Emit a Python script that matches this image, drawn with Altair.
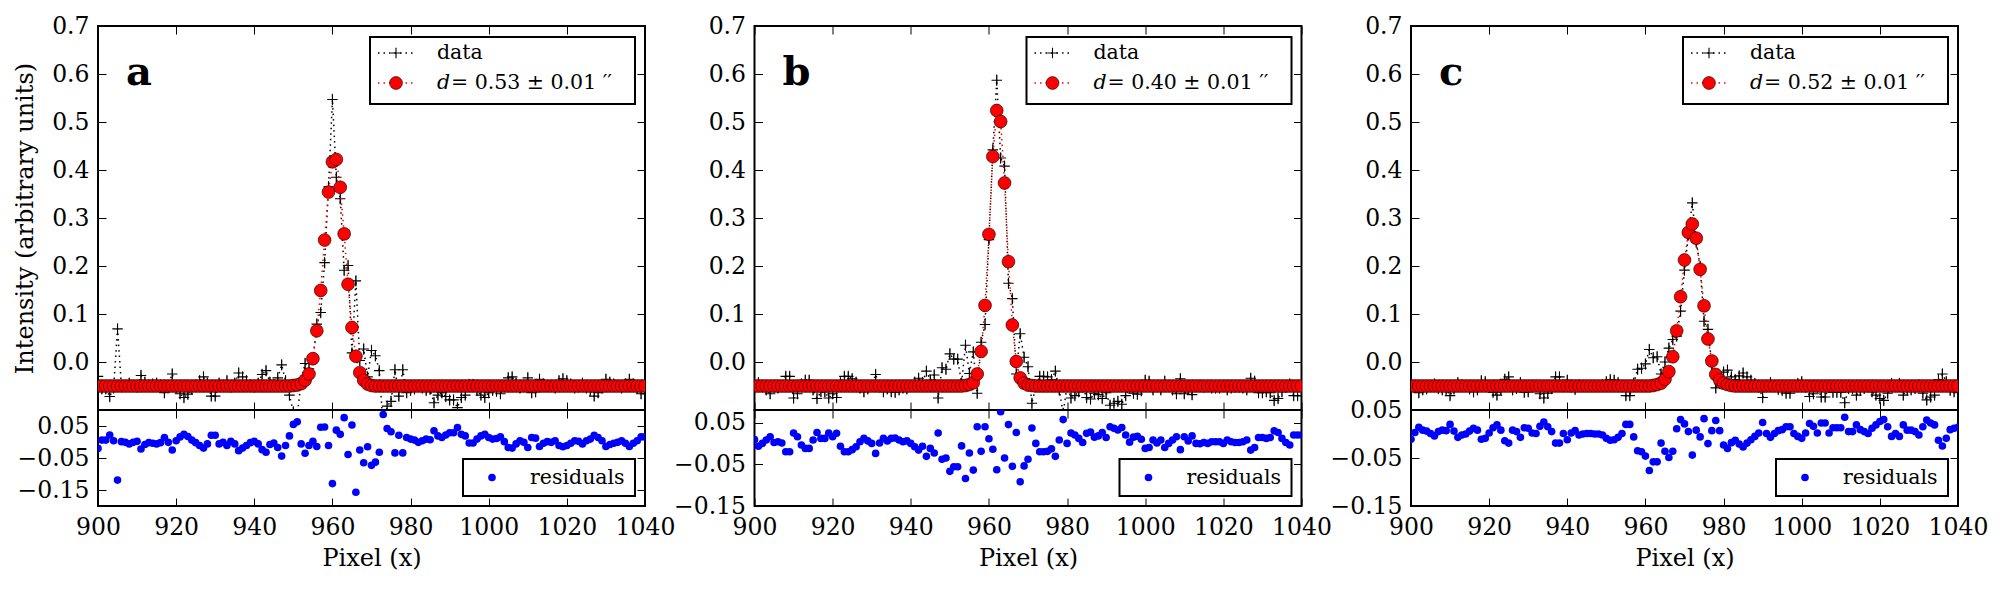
import altair as alt
import pandas as pd

# Detector pixel positions along the cut
pixels = list(range(900, 1041))
x_ticks = [900, 920, 940, 960, 980, 1000, 1020, 1040]
top_ticks = [-0.1, 0.0, 0.1, 0.2, 0.3, 0.4, 0.5, 0.6, 0.7]
res_ticks = [0.05, -0.05, -0.15]

# Fitted profile (model) for each frame
fit_a = [
    -0.05, -0.05, -0.05, -0.05, -0.05, -0.05, -0.05, -0.05, -0.05, -0.05,
    -0.05, -0.05, -0.05, -0.05, -0.05, -0.05, -0.05, -0.05, -0.05, -0.05,
    -0.05, -0.05, -0.05, -0.05, -0.05, -0.05, -0.05, -0.05, -0.05, -0.05,
    -0.05, -0.05, -0.05, -0.05, -0.05, -0.05, -0.05, -0.05, -0.05, -0.05,
    -0.05, -0.05, -0.05, -0.05, -0.05, -0.05, -0.05, -0.05, -0.05, -0.05,
    -0.049, -0.048, -0.045, -0.038, -0.025, 0.007, 0.065, 0.149, 0.254, 0.354,
    0.417, 0.422, 0.364, 0.267, 0.162, 0.072, 0.012, -0.022, -0.038, -0.046,
    -0.049, -0.05, -0.05, -0.05, -0.05, -0.05, -0.05, -0.05, -0.05, -0.05,
    -0.05, -0.05, -0.05, -0.05, -0.05, -0.05, -0.05, -0.05, -0.05, -0.05,
    -0.05, -0.05, -0.05, -0.05, -0.05, -0.05, -0.05, -0.05, -0.05, -0.05,
    -0.05, -0.05, -0.05, -0.05, -0.05, -0.05, -0.05, -0.05, -0.05, -0.05,
    -0.05, -0.05, -0.05, -0.05, -0.05, -0.05, -0.05, -0.05, -0.05, -0.05,
    -0.05, -0.05, -0.05, -0.05, -0.05, -0.05, -0.05, -0.05, -0.05, -0.05,
    -0.05, -0.05, -0.05, -0.05, -0.05, -0.05, -0.05, -0.05, -0.05, -0.05,
    -0.05,
]
fit_b = [
    -0.05, -0.05, -0.05, -0.05, -0.05, -0.05, -0.05, -0.05, -0.05, -0.05,
    -0.05, -0.05, -0.05, -0.05, -0.05, -0.05, -0.05, -0.05, -0.05, -0.05,
    -0.05, -0.05, -0.05, -0.05, -0.05, -0.05, -0.05, -0.05, -0.05, -0.05,
    -0.05, -0.05, -0.05, -0.05, -0.05, -0.05, -0.05, -0.05, -0.05, -0.05,
    -0.05, -0.05, -0.05, -0.05, -0.05, -0.05, -0.05, -0.05, -0.05, -0.05,
    -0.05, -0.05, -0.05, -0.05, -0.049, -0.047, -0.043, -0.025, 0.022, 0.118,
    0.266, 0.428, 0.524, 0.501, 0.373, 0.209, 0.077, 0.001, -0.033, -0.044,
    -0.048, -0.049, -0.05, -0.05, -0.05, -0.05, -0.05, -0.05, -0.05, -0.05,
    -0.05, -0.05, -0.05, -0.05, -0.05, -0.05, -0.05, -0.05, -0.05, -0.05,
    -0.05, -0.05, -0.05, -0.05, -0.05, -0.05, -0.05, -0.05, -0.05, -0.05,
    -0.05, -0.05, -0.05, -0.05, -0.05, -0.05, -0.05, -0.05, -0.05, -0.05,
    -0.05, -0.05, -0.05, -0.05, -0.05, -0.05, -0.05, -0.05, -0.05, -0.05,
    -0.05, -0.05, -0.05, -0.05, -0.05, -0.05, -0.05, -0.05, -0.05, -0.05,
    -0.05, -0.05, -0.05, -0.05, -0.05, -0.05, -0.05, -0.05, -0.05, -0.05,
    -0.05,
]
fit_c = [
    -0.05, -0.05, -0.05, -0.05, -0.05, -0.05, -0.05, -0.05, -0.05, -0.05,
    -0.05, -0.05, -0.05, -0.05, -0.05, -0.05, -0.05, -0.05, -0.05, -0.05,
    -0.05, -0.05, -0.05, -0.05, -0.05, -0.05, -0.05, -0.05, -0.05, -0.05,
    -0.05, -0.05, -0.05, -0.05, -0.05, -0.05, -0.05, -0.05, -0.05, -0.05,
    -0.05, -0.05, -0.05, -0.05, -0.05, -0.05, -0.05, -0.05, -0.05, -0.05,
    -0.05, -0.05, -0.05, -0.05, -0.05, -0.05, -0.05, -0.05, -0.05, -0.05,
    -0.05, -0.05, -0.049, -0.047, -0.044, -0.036, -0.020, 0.011, 0.065, 0.136,
    0.2125, 0.270, 0.2875, 0.258, 0.193, 0.117, 0.048, 0.002, -0.026, -0.0375,
    -0.044, -0.047, -0.049, -0.05, -0.05, -0.05, -0.05, -0.05, -0.05, -0.05,
    -0.05, -0.05, -0.05, -0.05, -0.05, -0.05, -0.05, -0.05, -0.05, -0.05,
    -0.05, -0.05, -0.05, -0.05, -0.05, -0.05, -0.05, -0.05, -0.05, -0.05,
    -0.05, -0.05, -0.05, -0.05, -0.05, -0.05, -0.05, -0.05, -0.05, -0.05,
    -0.05, -0.05, -0.05, -0.05, -0.05, -0.05, -0.05, -0.05, -0.05, -0.05,
    -0.05, -0.05, -0.05, -0.05, -0.05, -0.05, -0.05, -0.05, -0.05, -0.05,
    -0.05,
]

# Residuals (model minus data)
resid_a = [
    -0.020, 0.006, 0.006, 0.022, 0.004, -0.119, 0.001, -0.001, -0.006, -0.001,
    0.002, -0.022, -0.008, -0.002, -0.004, -0.006, -0.002, 0.014, -0.001, -0.025,
    0.004, 0.016, 0.024, 0.017, 0.006, -0.002, -0.011, -0.019, -0.006, 0.021,
    0.021, -0.006, -0.001, -0.011, 0.002, -0.006, -0.027, -0.019, -0.011, -0.002,
    0.002, -0.006, -0.024, -0.032, -0.008, -0.003, -0.017, -0.044, -0.011, 0.019,
    0.055, 0.063, -0.006, -0.035, -0.011, 0.002, -0.014, 0.046, 0.047, -0.011,
    -0.130, 0.037, 0.024, 0.076, -0.039, 0.053, -0.157, -0.025, -0.065, -0.015,
    -0.073, -0.063, -0.032, 0.086, 0.042, 0.032, -0.034, 0.021, -0.034, 0.014,
    0.009, 0.006, -0.001, 0.004, 0.009, 0.007, 0.035, 0.019, 0.014, 0.022,
    0.029, 0.029, 0.045, 0.024, 0.019, -0.003, -0.003, 0.009, 0.019, 0.024,
    0.014, 0.009, 0.011, 0.016, 0.001, -0.017, -0.019, -0.006, 0.004, -0.001,
    -0.017, 0.014, 0.012, -0.014, -0.004, 0.001, -0.001, 0.004, -0.011, -0.015,
    -0.011, -0.004, 0.004, 0.002, -0.006, 0.004, 0.009, 0.021, 0.014, 0.004,
    -0.014, -0.008, -0.004, -0.001, 0.004, -0.004, -0.014, -0.004, 0.004, 0.016,
    0.016,
]
resid_b = [
    0.009, -0.007, 0.000, 0.008, 0.016, 0.002, 0.004, 0.001, -0.020, -0.020,
    0.025, 0.016, -0.004, -0.012, -0.012, 0.008, 0.026, 0.012, 0.012, 0.025,
    0.016, 0.024, -0.007, -0.020, -0.020, -0.015, -0.008, 0.004, 0.012, 0.006,
    0.000, -0.024, 0.001, 0.012, 0.006, 0.012, 0.013, 0.008, 0.004, 0.006,
    0.000, -0.008, -0.016, -0.007, -0.031, -0.012, -0.023, 0.025, -0.038, -0.035,
    -0.067, -0.056, -0.056, -0.006, -0.084, -0.023, -0.064, 0.040, -0.019, 0.040,
    0.011, -0.014, -0.063, 0.076, -0.035, 0.045, -0.055, 0.026, -0.092, -0.054,
    -0.038, 0.037, 0.000, -0.020, -0.020, -0.019, -0.013, -0.031, 0.008, 0.057,
    0.000, 0.025, 0.020, 0.012, 0.002, 0.024, 0.027, 0.015, 0.018, 0.026,
    0.014, 0.040, 0.036, 0.032, 0.038, 0.020, 0.003, 0.015, 0.017, 0.010,
    -0.012, -0.010, 0.008, 0.001, 0.008, -0.010, 0.000, 0.008, 0.016, -0.015,
    0.016, 0.006, 0.018, 0.000, -0.001, 0.002, 0.000, 0.004, 0.004, 0.004,
    0.000, 0.008, 0.004, 0.002, 0.002, 0.004, 0.008, -0.016, -0.010, 0.014,
    0.014, 0.012, 0.014, 0.030, 0.026, 0.012, 0.002, -0.004, 0.020, 0.020,
    0.020,
]
resid_c = [
    -0.011, 0.003, 0.014, 0.008, 0.006, 0.001, -0.004, 0.005, 0.008, 0.007,
    0.020, 0.006, -0.007, -0.002, 0.000, 0.006, 0.012, 0.008, -0.011, -0.009,
    0.002, 0.013, 0.019, 0.008, -0.014, -0.019, 0.008, 0.005, -0.007, 0.013,
    0.012, 0.002, 0.001, 0.016, 0.025, 0.015, 0.005, -0.019, -0.019, 0.001,
    -0.012, 0.002, 0.007, -0.002, 0.000, 0.001, 0.001, 0.000, 0.000, -0.002,
    -0.009, -0.013, -0.012, -0.007, 0.001, 0.020, 0.020, -0.006, -0.035, -0.037,
    -0.046, -0.076, -0.058, -0.058, -0.019, -0.036, -0.049, -0.036, 0.011, 0.030,
    0.021, 0.005, -0.044, 0.008, -0.006, 0.032, -0.020, 0.007, 0.028, 0.007,
    -0.023, -0.030, -0.018, -0.013, -0.021, -0.027, -0.019, -0.012, -0.005, 0.002,
    0.024, 0.001, -0.007, 0.001, 0.007, 0.009, 0.015, 0.015, 0.001, -0.005,
    -0.009, 0.002, 0.022, 0.016, 0.002, 0.023, 0.023, 0.002, 0.013, 0.013,
    0.013, 0.035, 0.005, 0.005, 0.019, 0.009, 0.005, 0.001, 0.012, 0.019,
    0.026, 0.030, 0.015, -0.005, 0.001, -0.005, 0.019, 0.008, 0.008, 0.005,
    -0.002, 0.015, 0.029, 0.023, 0.019, -0.013, -0.025, -0.009, 0.009, 0.012,
    0.014,
]

panel_keys = ["a", "b", "c"]
fits = [fit_a, fit_b, fit_c]
resids = [resid_a, resid_b, resid_c]
widths_d = ["0.53", "0.40", "0.52"]
data_err = [0.012, 0.012, 0.012]
res_domains = [[-0.2, 0.1], [-0.15, 0.08], [-0.15, 0.05]]

FONT = "DejaVu Serif"
W, H_TOP, H_BOT = 547, 384, 96
PLUS = "M-1,0L1,0M0,-1L0,1"
DOTS = [1.5, 4]
FIT_SIZE = 165
RES_SIZE = 58
one = pd.DataFrame({"k": [0]})
x_scale = alt.Scale(domain=[900, 1040], nice=False, zero=False)


def upper_panel(i):
    df = pd.DataFrame({"x": pixels, "fit": fits[i], "resid": resids[i]})
    df["data"] = df["fit"] - df["resid"]
    df["lo"] = df["data"] - data_err[i]
    df["hi"] = df["data"] + data_err[i]
    ys = alt.Scale(domain=[-0.1, 0.7], nice=False, zero=False)
    ytitle = "Intensity (arbitrary units)" if i == 0 else ""
    base = alt.Chart(df)

    err = base.mark_rule(color="black", strokeWidth=0.7, clip=True).encode(
        x=alt.X("x:Q", scale=x_scale, axis=alt.Axis(orient="bottom", values=x_ticks, labels=False, title="")),
        y=alt.Y("lo:Q", scale=ys, axis=alt.Axis(
            orient="left", values=top_ticks, title=ytitle, titlePadding=14,
            labelExpr="datum.value < -0.05 ? '' : format(datum.value, '.1f')")),
        y2="hi:Q",
    )
    dline = base.mark_line(color="black", strokeWidth=1.5, strokeDash=DOTS, clip=True).encode(
        x=alt.X("x:Q", scale=x_scale, axis=None), y=alt.Y("data:Q", scale=ys, axis=None))
    dpts = base.mark_point(shape=PLUS, size=110, color="black", strokeWidth=1.1,
                           filled=False, opacity=1, clip=True).encode(
        x=alt.X("x:Q", scale=x_scale, axis=None), y=alt.Y("data:Q", scale=ys, axis=None))
    fline = base.mark_line(color="red", strokeWidth=1.5, strokeDash=DOTS, clip=True).encode(
        x=alt.X("x:Q", scale=x_scale, axis=None), y=alt.Y("fit:Q", scale=ys, axis=None))
    fpts = base.mark_point(shape="circle", size=FIT_SIZE, filled=True, fill="red", stroke="black",
                           strokeWidth=0.6, opacity=1, clip=True).encode(
        x=alt.X("x:Q", scale=x_scale, axis=None), y=alt.Y("fit:Q", scale=ys, axis=None))
    mirror = base.mark_point(opacity=0, clip=True).encode(
        x=alt.X("x:Q", scale=x_scale, axis=alt.Axis(orient="top", values=x_ticks, labels=False, title="")),
        y=alt.Y("fit:Q", scale=ys, axis=alt.Axis(orient="right", values=top_ticks, labels=False, title="")),
    )

    leg = alt.Chart(one)
    box = leg.mark_rect(fill="white", stroke="black", strokeWidth=2).encode(
        x=alt.value(272), x2=alt.value(537), y=alt.value(11), y2=alt.value(78))
    h1 = leg.mark_rule(color="black", strokeWidth=1.5, strokeDash=DOTS).encode(
        x=alt.value(280), x2=alt.value(316), y=alt.value(27))
    p1 = leg.mark_point(shape=PLUS, size=110, color="black", strokeWidth=1.1, filled=False, opacity=1).encode(
        x=alt.value(298), y=alt.value(27))
    t1 = leg.mark_text(text="data", font=FONT, fontSize=20.5, align="left", baseline="middle", color="black").encode(
        x=alt.value(339), y=alt.value(27))
    h2 = leg.mark_rule(color="red", strokeWidth=1.5, strokeDash=DOTS).encode(
        x=alt.value(280), x2=alt.value(316), y=alt.value(57))
    p2 = leg.mark_point(shape="circle", size=FIT_SIZE, filled=True, fill="red", stroke="black",
                        strokeWidth=0.6, opacity=1).encode(x=alt.value(298), y=alt.value(57))
    t2a = leg.mark_text(text="d", font=FONT, fontSize=20.5, fontStyle="italic", align="left",
                        baseline="middle", color="black").encode(x=alt.value(339), y=alt.value(57))
    t2b = leg.mark_text(text="= " + widths_d[i] + " ± 0.01  \u2032\u2032", font=FONT, fontSize=20.5,
                        align="left", baseline="middle", color="black").encode(x=alt.value(353), y=alt.value(57))
    letter = leg.mark_text(text=panel_keys[i], font=FONT, fontSize=40, fontWeight="bold", align="left",
                           baseline="alphabetic", color="black").encode(x=alt.value(28), y=alt.value(59))

    return alt.layer(err, dline, dpts, fline, fpts, mirror, box, h1, p1, t1, h2, p2, t2a, t2b, letter).resolve_axis(
        x="independent", y="independent").properties(width=W, height=H_TOP)


def lower_panel(i):
    df = pd.DataFrame({"x": pixels, "resid": resids[i]})
    ys = alt.Scale(domain=res_domains[i], nice=False, zero=False)
    base = alt.Chart(df)
    dots = base.mark_circle(color="blue", size=RES_SIZE, opacity=1, clip=True).encode(
        x=alt.X("x:Q", scale=x_scale, axis=alt.Axis(orient="bottom", values=x_ticks, format="d",
                                                      title="Pixel (x)", titlePadding=8)),
        y=alt.Y("resid:Q", scale=ys, axis=alt.Axis(orient="left", values=res_ticks, format=".2f", title="")),
    )
    mirror = base.mark_point(opacity=0, clip=True).encode(
        x=alt.X("x:Q", scale=x_scale, axis=alt.Axis(orient="top", values=x_ticks, labels=False, title="")),
        y=alt.Y("resid:Q", scale=ys, axis=alt.Axis(orient="right", values=res_ticks, labels=False, title="")),
    )
    leg = alt.Chart(one)
    box = leg.mark_rect(fill="white", stroke="black", strokeWidth=2).encode(
        x=alt.value(365), x2=alt.value(537), y=alt.value(49), y2=alt.value(86))
    dot = leg.mark_circle(color="blue", size=RES_SIZE, opacity=1).encode(x=alt.value(394), y=alt.value(67.5))
    txt = leg.mark_text(text="residuals", font=FONT, fontSize=20.5, align="left", baseline="middle",
                        color="black").encode(x=alt.value(432), y=alt.value(67.5))
    return alt.layer(dots, mirror, box, dot, txt).resolve_axis(
        x="independent", y="independent").properties(width=W, height=H_BOT)


# Two rows (profiles, residuals) by three columns (frames a, b, c)
cells = [upper_panel(i) for i in range(3)] + [lower_panel(i) for i in range(3)]

chart = alt.concat(*cells, columns=3, spacing={"row": 0, "column": 109.5}, bounds="flush").properties(
    padding={"left": 12, "top": 13, "right": 5, "bottom": 5},
    background="white",
).configure_view(
    stroke="black", strokeWidth=2
).configure_axis(
    domain=False, grid=False, tickColor="black", tickWidth=1, tickSize=8, offset=-8,
    labelFont=FONT, labelFontSize=23.5, labelColor="black", labelPadding=9,
    labelOverlap=False, labelFlush=False,
    titleFont=FONT, titleFontSize=24, titleFontWeight="normal", titleColor="black",
    zindex=1,
)

chart.save("out.html", embed_options={"renderer": "svg", "actions": False})
